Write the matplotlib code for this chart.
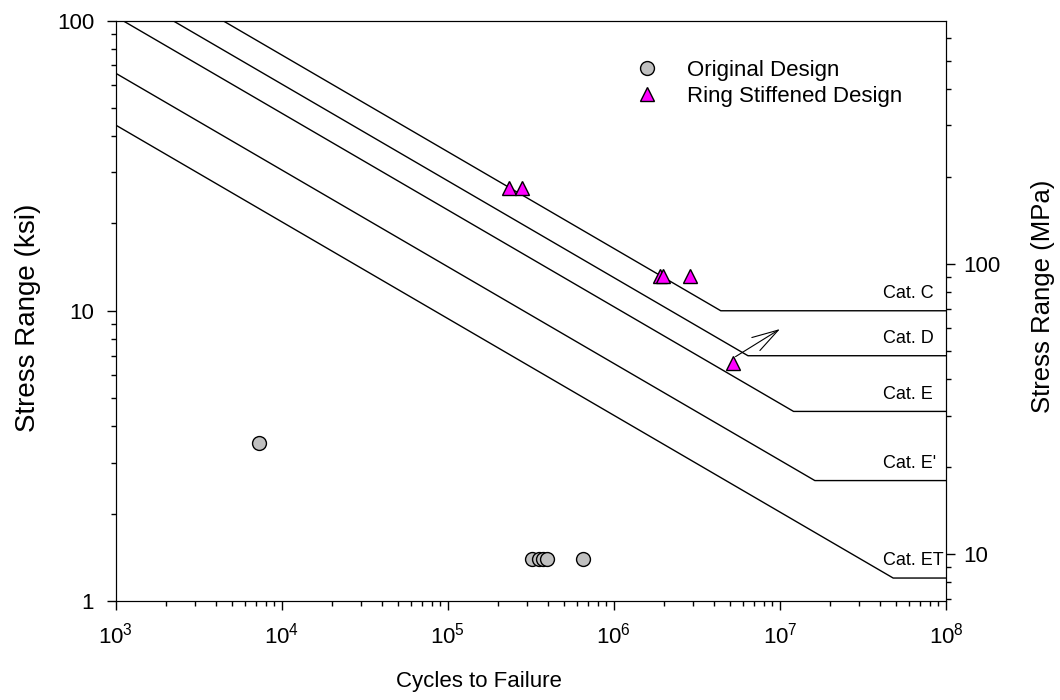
import numpy as np
import matplotlib.pyplot as plt
from matplotlib.ticker import LogLocator, NullFormatter

plt.rcParams['font.family'] = ['Liberation Sans', 'DejaVu Sans']
plt.rcParams['mathtext.fontset'] = 'custom'
plt.rcParams['mathtext.rm'] = 'Liberation Sans'
plt.rcParams['mathtext.it'] = 'Liberation Sans:italic'

# detail categories: constant A (ksi^3) and threshold (ksi)
cats = ['Cat. C', 'Cat. D', 'Cat. E', "Cat. E'", 'Cat. ET']
cat_A = [44e8, 22e8, 11e8, 2.85e8, 8.3e7]
cat_cafl = [10, 7, 4.5, 2.6, 1.2]

orig_N = [7.3e3, 3.21e5, 3.55e5, 3.75e5, 3.96e5, 6.47e5]
orig_S = [3.5, 1.4, 1.4, 1.4, 1.4, 1.4]

ring_N = [2.34e5, 2.79e5, 1.90e6, 1.97e6, 2.88e6, 5.2e6]
ring_S = [26.5, 26.5, 13.2, 13.2, 13.2, 6.6]

ksi_to_mpa = 6.895

fig = plt.figure(figsize=(10.6, 7), dpi=100)
ax = fig.add_axes([0.1092, 0.1414, 0.7833, 0.8293])

for name, A, th in zip(cats, cat_A, cat_cafl):
    knee = A / th**3
    ax.plot([1e3, knee, 1e8], [(A / 1e3)**(1/3), th, th], color='black', lw=1)
    ax.annotate(name, (4.2e7, th), xytext=(0, 12.5), textcoords='offset points',
                va='center', ha='left', fontsize=13)

ax.plot(orig_N, orig_S, 'o', ms=10, mfc='#c0c0c0', mec='black', mew=1,
        label='Original Design', zorder=5)
ax.plot(ring_N, ring_S, '^', ms=10, mfc='#ff00ff', mec='black', mew=1,
        label='Ring Stiffened Design', zorder=5)

ax.annotate('', xy=(1.0e7, 8.65), xytext=(5.4e6, 6.95),
            arrowprops=dict(arrowstyle='->,head_length=1.9,head_width=0.55', color='black',
                            lw=0.8, mutation_scale=10, shrinkA=0, shrinkB=0))

ax.set_xscale('log')
ax.set_yscale('log')
ax.set_xlim(1e3, 1e8)
ax.set_ylim(1, 100)

ax.set_xticks([1e3, 1e4, 1e5, 1e6, 1e7, 1e8])
ax.set_xticklabels([r'$10^{%d}$' % k for k in range(3, 9)])
ax.set_yticks([1, 10, 100])
ax.set_yticklabels(['1', '10', '100'])
ax.xaxis.set_minor_locator(LogLocator(base=10, subs=np.arange(2, 10), numticks=20))
ax.yaxis.set_minor_locator(LogLocator(base=10, subs=np.arange(2, 10), numticks=20))
ax.xaxis.set_minor_formatter(NullFormatter())
ax.yaxis.set_minor_formatter(NullFormatter())
ax.tick_params(which='major', direction='out', length=6.5, width=1, labelsize=16, pad=9)
ax.tick_params(which='minor', direction='out', length=3.6, width=1)
ax.tick_params(axis='y', which='major', pad=9)

ax2 = ax.twinx()
ax2.set_yscale('log')
ax2.set_ylim(1 * ksi_to_mpa, 100 * ksi_to_mpa)
ax2.set_yticks([10, 100])
ax2.set_yticklabels(['10', '100'])
ax2.yaxis.set_minor_locator(LogLocator(base=10, subs=np.arange(2, 10), numticks=20))
ax2.yaxis.set_minor_formatter(NullFormatter())
ax2.tick_params(which='major', direction='out', length=6.5, width=1, labelsize=16, pad=6)
ax2.tick_params(which='minor', direction='out', length=3.6, width=1)

fig.text(479 / 1060, 1 - 682 / 700, 'Cycles to Failure', fontsize=16, ha='center', va='center')
fig.text(28 / 1060, 1 - 318 / 700, 'Stress Range (ksi)', fontsize=20, rotation=90,
         ha='center', va='center')
fig.text(1043 / 1060, 1 - 296 / 700, 'Stress Range (MPa)', fontsize=18.5, rotation=90,
         ha='center', va='center')

ax.legend(loc='upper left', bbox_to_anchor=(0.579, 0.943), bbox_transform=fig.transFigure,
          frameon=False, fontsize=16, handletextpad=1.2, labelspacing=0.22,
          handlelength=1.2)

fig.savefig('out.png', dpi=100)
